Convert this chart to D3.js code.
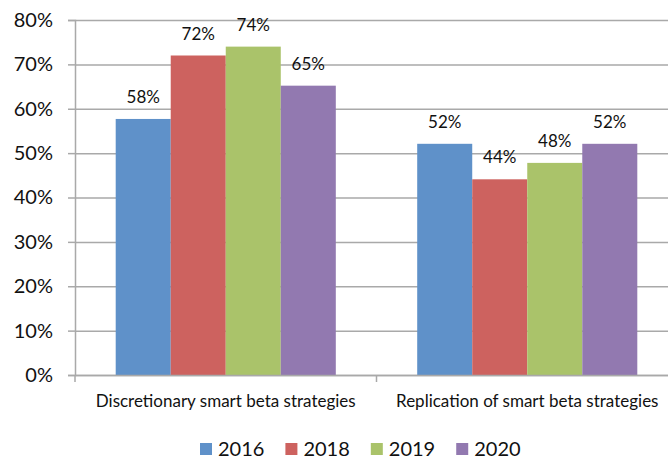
<!DOCTYPE html>
<html>
<head>
<meta charset="utf-8">
<script src="https://cdn.jsdelivr.net/npm/d3@7"></script>
<style>
  body { margin: 0; background: #fff; }
  svg { display: block; font-family: Lato, "Open Sans", sans-serif; }
</style>
</head>
<body>
<div id="chart"></div>
<script>
// data
const categories = ["Discretionary smart beta strategies", "Replication of smart beta strategies"];
const years = ["2016", "2018", "2019", "2020"];
const colors = ["#5f91c9", "#cd625f", "#aac36a", "#9279b0"];
// one array per category, in the order of years
const discretionary = [0.577, 0.72, 0.74, 0.652];
const replication = [0.521, 0.441, 0.478, 0.521];
const yTicks = [0, 0.1, 0.2, 0.3, 0.4, 0.5, 0.6, 0.7, 0.8];

const seriesByCat = [discretionary, replication];

const W = 668, H = 460;
const margin = { top: 20, left: 75, bottom: 85 };
const plotRight = 678;   // plot runs a bit past the picture's right edge

const svg = d3.select("#chart").append("svg")
  .attr("width", W).attr("height", H);

const x = d3.scaleBand().domain(categories)
  .range([margin.left, plotRight])
  .paddingInner(0.27).paddingOuter(0.135);

const xs = d3.scaleBand().domain(years).range([0, x.bandwidth()]);

const y = d3.scaleLinear().domain([0, 0.8]).range([H - margin.bottom, margin.top]);

const fmt = d3.format(".0%");

// gridlines
svg.append("g").attr("class", "grid")
  .attr("transform", `translate(${margin.left},0)`)
  .call(d3.axisLeft(y).tickValues(yTicks).tickSize(-(plotRight - margin.left)).tickFormat(""))
  .call(g => g.select(".domain").remove())
  .call(g => g.selectAll("line").attr("stroke", "#a9a9a9").attr("stroke-width", 1.5));

// y axis
svg.append("g")
  .attr("transform", `translate(${margin.left},0)`)
  .call(d3.axisLeft(y).tickValues(yTicks).tickSize(7).tickPadding(15).tickFormat(fmt))
  .call(g => g.select(".domain").attr("stroke", "#a9a9a9").attr("stroke-width", 1.5))
  .call(g => g.selectAll("line").attr("stroke", "#a9a9a9").attr("stroke-width", 1.5))
  .call(g => g.selectAll("text").attr("font-size", 20).attr("fill", "#111")
    .attr("font-family", "Lato, sans-serif"));

// bars
const groups = svg.append("g").selectAll("g").data(categories).enter()
  .append("g").attr("transform", d => `translate(${x(d)},0)`);

groups.selectAll("rect")
  .data((d, i) => seriesByCat[i].map((v, j) => ({ year: years[j], value: v, c: j })))
  .enter().append("rect")
  .attr("x", d => xs(d.year))
  .attr("width", xs.bandwidth())
  .attr("y", d => y(d.value))
  .attr("height", d => y(0) - y(d.value))
  .attr("fill", d => colors[d.c]);

groups.selectAll("text")
  .data((d, i) => seriesByCat[i].map((v, j) => ({ year: years[j], value: v })))
  .enter().append("text")
  .attr("x", d => xs(d.year) + xs.bandwidth() / 2)
  .attr("y", d => y(d.value) - 16)
  .attr("text-anchor", "middle")
  .attr("font-size", 17).attr("fill", "#111")
  .text(d => fmt(d.value));

// x axis: line, boundary ticks, category labels
const xAxis = svg.append("g").attr("transform", `translate(0,${y(0)})`);
xAxis.call(d3.axisBottom(x).tickSize(0).tickPadding(20))
  .call(g => g.select(".domain").attr("stroke", "#a9a9a9").attr("stroke-width", 1.5))
  .call(g => g.selectAll("text").attr("font-size", 17).attr("fill", "#111")
    .attr("font-family", "Lato, sans-serif"));

const boundaries = [margin.left, ...categories.slice(1).map(c => x(c) - x.step() * x.paddingInner() / 2), plotRight];
xAxis.selectAll("line.bound").data(boundaries).enter()
  .append("line").attr("class", "bound")
  .attr("x1", d => d).attr("x2", d => d)
  .attr("y1", 0).attr("y2", 7)
  .attr("stroke", "#a9a9a9").attr("stroke-width", 1.5);

// legend
const legend = svg.append("g").attr("transform", "translate(200,449)");
let lx = 0;
years.forEach((yr, i) => {
  const item = legend.append("g").attr("transform", `translate(${lx},0)`);
  item.append("rect").attr("x", 0).attr("y", -6).attr("width", 12).attr("height", 12)
    .attr("fill", colors[i]);
  const t = item.append("text").attr("x", 18).attr("y", 7)
    .attr("font-size", 20).attr("fill", "#111").text(yr);
  lx += 18 + t.node().getComputedTextLength() + 21;
});
</script>
</body>
</html>
